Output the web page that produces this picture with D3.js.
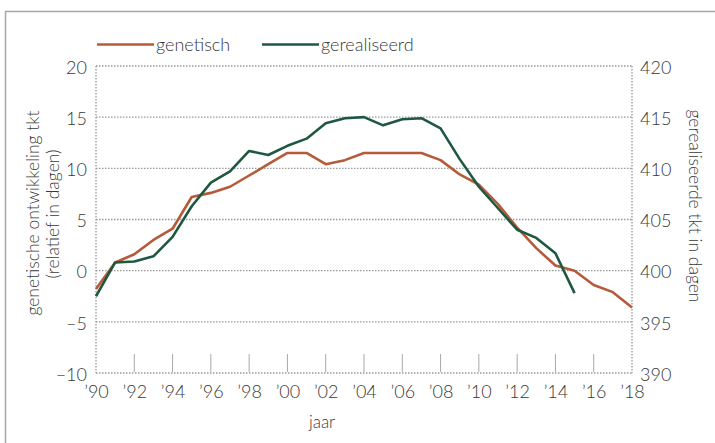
<!DOCTYPE html>
<html><head><meta charset="utf-8">
<script src="https://cdn.jsdelivr.net/npm/d3@7"></script>
<style>
body{margin:0;background:#fff;}
svg{display:block;}
text{font-family:Lato,"Open Sans",sans-serif;fill:#383838;font-weight:300;}
</style></head>
<body>
<script>
const years = d3.range(1990, 2019);
const genetisch = [-1.8, 0.8, 1.6, 3.0, 4.1, 7.2, 7.6, 8.2, 9.3, 10.4, 11.5, 11.5, 10.4, 10.8, 11.5, 11.5, 11.5, 11.5, 10.8, 9.4, 8.4, 6.5, 4.2, 2.2, 0.5, 0.0, -1.4, -2.1, -3.6];
const gerealiseerdYears = d3.range(1990, 2016);
const gerealiseerd = [397.5, 400.8, 400.9, 401.4, 403.3, 406.3, 408.6, 409.7, 411.7, 411.3, 412.2, 412.9, 414.4, 414.9, 415.0, 414.2, 414.8, 414.9, 413.9, 410.9, 408.2, 406.1, 404.0, 403.2, 401.7, 397.8];
const leftTicks = [-10, -5, 0, 5, 10, 15, 20];
const rightTicks = [390, 395, 400, 405, 410, 415, 420];
const xTicks = d3.range(1990, 2019, 2);
const seriesNames = ["genetisch", "gerealiseerd"];
const colors = ["#b55a3a", "#1f5840"];

const W = 715, H = 443;
const svg = d3.select("body").append("svg").attr("width", W).attr("height", H);

// outer frame
svg.append("path").attr("d", "M5.5,460 V11.5 H730").attr("fill", "none").attr("stroke", "#a8a8a8").attr("stroke-width", 1.5);

const x = d3.scaleLinear().domain([1990, 2018]).range([96, 632]);
const yL = d3.scaleLinear().domain([-10, 20]).range([373, 66]);
const yR = d3.scaleLinear().domain([390, 420]).range([373, 66]);

// small vertical ticks at bottom
svg.append("g").selectAll("line").data(xTicks.filter(d => d > 1990 && d < 2018)).join("line")
  .attr("x1", d => x(d)).attr("x2", d => x(d)).attr("y1", 354).attr("y2", 372)
  .attr("stroke", "#a8a8a8").attr("stroke-width", 1);

// horizontal dotted grid
svg.append("g").selectAll("line").data(leftTicks).join("line")
  .attr("x1", x(1990)).attr("x2", x(2018)).attr("y1", d => yL(d)).attr("y2", d => yL(d))
  .attr("stroke", "#999").attr("stroke-width", 1.3).attr("stroke-dasharray", "1.5,1.5");
// vertical dotted borders
svg.append("g").selectAll("line").data([1990, 2018]).join("line")
  .attr("x1", d => x(d)).attr("x2", d => x(d)).attr("y1", yL(20)).attr("y2", yL(-10))
  .attr("stroke", "#999").attr("stroke-width", 1.3).attr("stroke-dasharray", "1.5,1.5");

function styleText(sel) {
  sel.attr("font-size", 18).attr("font-family", "Lato,sans-serif").attr("fill", "#383838").attr("font-weight", 300);
}

// left axis labels
const leftAxis = d3.axisLeft(yL).tickValues(leftTicks).tickSize(0).tickPadding(9)
  .tickFormat(d => d < 0 ? "\u2013" + Math.abs(d) : String(d));
const gl = svg.append("g").attr("transform", `translate(${x(1990)},0)`).call(leftAxis);
gl.select(".domain").remove();
gl.selectAll("text").call(styleText).attr("dy", "0.4em");

// right axis labels
const rightAxis = d3.axisRight(yR).tickValues(rightTicks).tickSize(0).tickPadding(8);
const gr = svg.append("g").attr("transform", `translate(${x(2018)},0)`).call(rightAxis);
gr.select(".domain").remove();
gr.selectAll("text").call(styleText).attr("dy", "0.4em");

// bottom axis labels
const bottomAxis = d3.axisBottom(x).tickValues(xTicks).tickSize(0).tickPadding(12)
  .tickFormat(d => "\u2019" + String(d).slice(2));
const gb = svg.append("g").attr("transform", `translate(0,${yL(-10)})`).call(bottomAxis);
gb.select(".domain").remove();
gb.selectAll("text").call(styleText);

// axis titles
svg.append("text").attr("x", 322).attr("y", 428).attr("text-anchor", "middle").attr("font-size", 17).text("jaar");
svg.append("text").attr("transform", "translate(39,213) rotate(-90)").attr("text-anchor", "middle").attr("font-size", 17.5).text("genetische ontwikkeling tkt");
svg.append("text").attr("transform", "translate(59,214) rotate(-90)").attr("text-anchor", "middle").attr("font-size", 17.5).text("(relatief in dagen)");
svg.append("text").attr("transform", "translate(689,206) rotate(90)").attr("text-anchor", "middle").attr("font-size", 17.5).text("gerealiseerde tkt in dagen");

// lines
const lineL = d3.line().x((d, i) => x(years[i])).y(d => yL(d));
const lineR = d3.line().x((d, i) => x(gerealiseerdYears[i])).y(d => yR(d));
svg.append("path").datum(genetisch).attr("d", lineL).attr("fill", "none").attr("stroke", colors[0]).attr("stroke-width", 2.6).attr("stroke-linejoin", "round");
svg.append("path").datum(gerealiseerd).attr("d", lineR).attr("fill", "none").attr("stroke", colors[1]).attr("stroke-width", 2.6).attr("stroke-linejoin", "round");

// legend
const legendX = [97, 262];
const lg = svg.append("g");
seriesNames.forEach((n, i) => {
  lg.append("line").attr("x1", legendX[i]).attr("x2", legendX[i] + 57).attr("y1", 44.5).attr("y2", 44.5)
    .attr("stroke", colors[i]).attr("stroke-width", 2.6);
  lg.append("text").attr("x", legendX[i] + 59).attr("y", 50.5).attr("font-size", 18).text(n);
});
</script>
</body></html>
